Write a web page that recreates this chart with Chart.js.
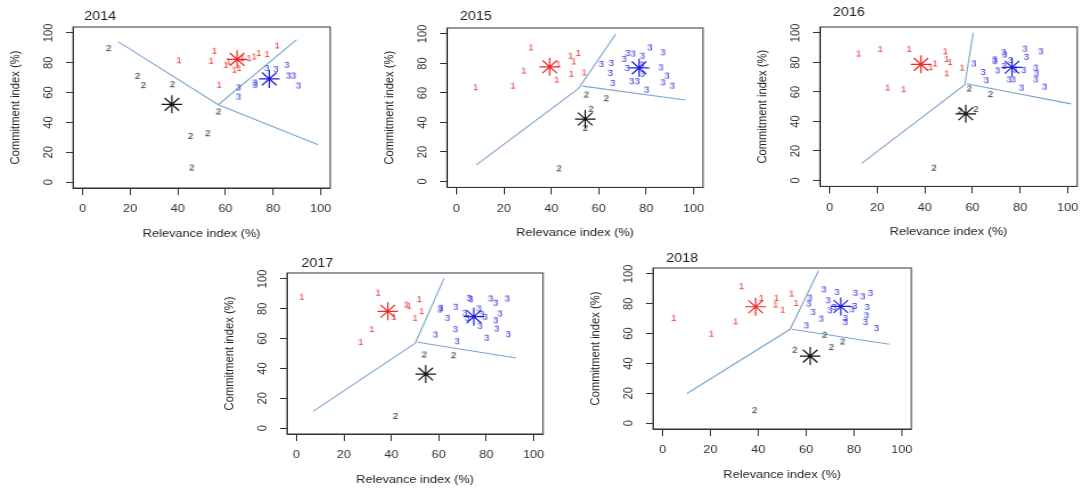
<!DOCTYPE html>
<html>
<head>
<meta charset="utf-8">
<script src="https://cdn.jsdelivr.net/npm/chart.js@4/dist/chart.umd.min.js"></script>
<style>
  html, body { margin: 0; padding: 0; background: #fff; width: 1086px; height: 489px; overflow: hidden; }
  .panel { position: absolute; transform-origin: 0 0; transform: scaleX(1.14); }
  canvas { display: block; }
</style>
</head>
<body>
<script>
const years = ['2014', '2015', '2016', '2017', '2018'];
const xTicks = [0, 20, 40, 60, 80, 100];
const yTicks = [0, 20, 40, 60, 80, 100];

// 2014
const group1_2014 = [[55.3,87.7],[53.9,81],[40.4,81.4],[60.1,78.3],[61.2,80.5],[63.6,75],[65.6,76.1],[67,82.8],[69.8,82.8],[71.9,83.9],[73.9,86.2],[77.4,85.5],[81.6,91.3],[57.3,64.9]];
const group2_2014 = [[10.9,89.5],[23,70.9],[25.5,64.7],[37.7,65.3],[57,47],[45.3,30.6],[52.5,32.4],[45.8,9.4]];
const group3_2014 = [[77.4,76.1],[81.1,75.4],[85.7,78.3],[86.4,71.1],[88.5,71.1],[90.6,64.4],[72.3,66.4],[72.3,64.9],[65.4,63.1],[65.4,57]];
const centres_2014 = [[64.9,82.3],[37.5,52.1],[78.4,69.2]];
const borderA_2014 = [[15.1,94],[57,51.9],[89.9,95.5]];
const borderB_2014 = [[57,51.9],[98.9,25]];

// 2015
const group1_2015 = [[7.9,63.5],[23.7,64.6],[28.3,74.8],[31.3,90.5],[42.2,68.7],[42.8,79.3],[48,84.9],[51.3,86.7],[49.4,81],[48.3,72.7],[53.8,73.6]];
const group2_2015 = [[54.7,58.6],[63.1,56.1],[56.7,48.9],[54.3,36],[43.2,8.6]];
const group3_2015 = [[61,79.3],[65.2,80],[64.8,73.2],[65.8,66.4],[70.6,82.7],[72.1,86.7],[74.4,86.3],[71.9,76.6],[73.8,67.6],[76.2,67.6],[78.3,84.9],[78,78.8],[78.3,72.7],[81.5,90.5],[87,87.2],[86.1,77],[88.7,71.4],[87,66.9],[90.9,64.6],[80.1,61.9]];
const centres_2015 = [[39.3,77.7],[54.3,42.3],[77,77]];
const borderA_2015 = [[8.4,11.3],[51.5,63.1],[67.1,99.8]];
const borderB_2015 = [[53.2,64.6],[96.5,55.2]];

// 2016
const group1_2016 = [[12.1,85.7],[21.2,88.8],[33.3,88.8],[24.3,62.6],[31,61.5],[48.5,87.2],[49.1,82.1],[50.5,79.9],[44.2,79],[42.4,76.5],[49.1,72.3],[55.6,76.1]];
const group2_2016 = [[58.6,62],[67.5,58.2],[61.4,48.1],[54.7,47],[43.8,8.3]];
const group3_2016 = [[60.5,79],[64.4,73.2],[65.8,67.6],[69.3,81.7],[69.3,80.5],[73.1,86.6],[73.5,85],[70.4,74.3],[73.2,77.2],[75.9,81.2],[75.3,68.2],[77,68.2],[77.7,74.9],[81.4,74.5],[81.9,89],[82.6,83.4],[86.5,76.1],[86.8,72.3],[86.5,68.2],[88.6,87.2],[80.5,62.6],[90.2,63.3]];
const centres_2016 = [[38.4,78.7],[57.2,45.2],[76.6,76.7]];
const borderA_2016 = [[13.5,11.6],[56.8,64.9],[60.3,100.2]];
const borderB_2016 = [[57.5,65.5],[101.4,51.9]];

// 2017
const group1_2017 = [[2.1,87.7],[34.3,90.4],[27,57.5],[31.7,66],[46.2,82.6],[47.3,81.7],[51.7,86.1],[52.7,78.1],[49.9,73.6],[41,74.3]];
const group2_2017 = [[53.8,49],[66.2,48.5],[41.7,7.8]];
const group3_2017 = [[60.8,80.3],[60.4,79.2],[67.1,81],[63.6,73.6],[58.5,62.4],[66.9,66],[67.6,57.9],[72.7,87],[73.4,86.1],[70.9,77],[72,73.6],[76.9,79.9],[78,76.1],[77.3,68.2],[79.4,74.3],[81.8,86.6],[83.9,83.7],[88.8,86.6],[85.7,76.5],[83.9,72],[84.3,66.4],[80.1,60.2],[89.2,62.6]];
const centres_2017 = [[38.5,78.3],[54.5,36.2],[74.8,74.7]];
const borderA_2017 = [[7,11.2],[50.1,57],[62.2,100.4]];
const borderB_2017 = [[51,57.5],[92.7,47]];

// 2018
const group1_2018 = [[4.6,70.1],[20.3,59.6],[30.4,67.9],[32.9,91.5],[41.2,83.6],[47.5,83.6],[47.1,79.1],[50.1,75.7],[53.8,86.5],[55.7,80.2]];
const group2_2018 = [[67.7,58.9],[75.2,54.4],[70.5,50.6],[55.2,48.8],[38.4,8.3]];
const group3_2018 = [[67.3,89.4],[72.8,87.6],[80.5,87],[83.6,84.7],[86.8,87],[61.4,83.8],[61,79.8],[69.1,82],[69.8,75.3],[71.5,77.5],[62.8,74.2],[66.2,69.7],[60,65.2],[76.3,70.1],[76.3,67.4],[80.2,78.2],[79.1,76],[85.4,77.5],[85.1,71.9],[84.7,67.4],[89.3,63.4]];
const centres_2018 = [[38.9,78],[61.7,44.9],[74.5,78.2]];
const borderA_2018 = [[10.2,19.8],[53.3,62.9],[65.2,102.2]];
const borderB_2018 = [[54,62.9],[94.8,52.8]];

const group1 = [group1_2014, group1_2015, group1_2016, group1_2017, group1_2018];
const group2 = [group2_2014, group2_2015, group2_2016, group2_2017, group2_2018];
const group3 = [group3_2014, group3_2015, group3_2016, group3_2017, group3_2018];
const centres = [centres_2014, centres_2015, centres_2016, centres_2017, centres_2018];
const bordersA = [borderA_2014, borderA_2015, borderA_2016, borderA_2017, borderA_2018];
const bordersB = [borderB_2014, borderB_2015, borderB_2016, borderB_2017, borderB_2018];

// page position of each plot box: left, top, width, height, year label dx, dy
const boxes = [
  [72.7, 27, 258.3, 161, 11.3, -10],
  [447.3, 28.3, 257.7, 159.4, 13, -11.3],
  [820, 27.3, 258, 159.4, 13, -14],
  [287.3, 273.3, 257.7, 161, 14.4, -9.3],
  [652.7, 268.3, 259, 161, 13.3, -9]
];

const S = 1.14;          // horizontal stretch of the original figure
const leftW = 72, rightW = 10, topH = 30, botH = 58;
const FONT = '"Liberation Sans", Arial, Helvetica, sans-serif';
const colours = ['rgb(236,40,40)', 'rgb(20,20,20)', 'rgb(30,30,220)'];
const lineCol = 'rgb(122,166,206)';
const axisCol = '#333';

function digitMark(txt, col) {
  const c = document.createElement('canvas');
  c.width = 10; c.height = 11;
  const g = c.getContext('2d');
  g.font = '8.5px ' + FONT;
  g.fillStyle = col;
  g.textAlign = 'center';
  g.textBaseline = 'middle';
  g.fillText(txt, 5, 6);
  return c;
}
const marks = [digitMark('1', colours[0]), digitMark('2', colours[1]), digitMark('3', colours[2])];

const toXY = arr => arr.map(p => ({x: p[0], y: p[1]}));

const frame = {
  id: 'frame',
  afterDraw(chart) {
    const {ctx, chartArea: a} = chart;
    const i = chart.options.plugins.frame.idx;
    ctx.save();
    ctx.strokeStyle = axisCol;
    ctx.lineWidth = 1;
    ctx.strokeRect(a.left, a.top, a.right - a.left, a.bottom - a.top);
    // y tick labels, rotated like base R
    const ys = chart.scales.y;
    ctx.fillStyle = '#333';
    ctx.font = '11.2px ' + FONT;
    ctx.textAlign = 'center';
    ctx.textBaseline = 'middle';
    const tx = a.left - 24 / S;
    yTicks.forEach(v => {
      ctx.save();
      ctx.translate(tx, ys.getPixelForValue(v));
      ctx.rotate(-Math.PI / 2);
      ctx.fillText(String(v), 0, 0);
      ctx.restore();
    });
    // year title
    ctx.fillStyle = '#222';
    ctx.font = '12.5px ' + FONT;
    ctx.textAlign = 'left';
    ctx.fillText(years[i], a.left + boxes[i][4] / S, a.top + boxes[i][5]);
    ctx.restore();
  }
};

function makePanel(i) {
  const [bl, bt, bw, bh] = boxes[i];
  const div = document.createElement('div');
  div.className = 'panel';
  div.style.left = (bl - leftW) + 'px';
  div.style.top = (bt - topH) + 'px';
  const cv = document.createElement('canvas');
  const W = Math.ceil((leftW + bw + rightW) / S);
  const H = Math.round(topH + bh + botH);
  cv.width = W; cv.height = H;
  cv.style.width = W + 'px'; cv.style.height = H + 'px';
  div.appendChild(cv);
  document.body.appendChild(div);

  const lh = 11.2 * 1.2;
  const datasets = [];
  centres[i].forEach((c, k) => {
    datasets.push({data: toXY([c]), pointStyle: 'star', pointRadius: 9, borderColor: colours[k], borderWidth: 1.2, backgroundColor: colours[k]});
  });
  [group1[i], group2[i], group3[i]].forEach((g, k) => {
    datasets.push({data: toXY(g), pointStyle: marks[k], pointRadius: 4});
  });
  [bordersA[i], bordersB[i]].forEach(b => {
    datasets.push({data: toXY(b), showLine: true, pointRadius: 0, borderColor: lineCol, borderWidth: 1.1, fill: false});
  });

  new Chart(cv, {
    type: 'scatter',
    data: {datasets},
    options: {
      responsive: false,
      animation: false,
      devicePixelRatio: 1,
      events: [],
      layout: {padding: {left: 0, top: topH, bottom: 0, right: W - (leftW + bw) / S}},
      plugins: {legend: {display: false}, tooltip: {enabled: false}, frame: {idx: i}},
      scales: {
        x: {
          type: 'linear', min: -4, max: 104,
          afterBuildTicks: s => { s.ticks = xTicks.map(v => ({value: v})); },
          afterFit: s => { s.height = H - topH - bh; },
          grid: {drawOnChartArea: false, drawTicks: true, tickLength: 7, color: axisCol},
          border: {display: true, color: axisCol},
          ticks: {padding: 7.5, color: '#333', maxRotation: 0, autoSkip: false, font: {family: FONT, size: 11.2}},
          title: {display: true, text: 'Relevance index (%)', color: '#222', font: {family: FONT, size: 11.2},
                  padding: {top: 0, bottom: (H - topH - bh) - 46 - lh / 2}}
        },
        y: {
          type: 'linear', min: -4, max: 104,
          afterBuildTicks: s => { s.ticks = yTicks.map(v => ({value: v})); },
          afterFit: s => { s.width = leftW / S; },
          grid: {drawOnChartArea: false, drawTicks: true, tickLength: 7 / S, color: axisCol},
          border: {display: true, color: axisCol},
          ticks: {display: false},
          title: {display: true, text: 'Commitment index (%)', color: '#222', font: {family: FONT, size: 11.2},
                  padding: {top: (leftW - 57) / S - lh / 2, bottom: 0}}
        }
      }
    },
    plugins: [frame]
  });
}

years.forEach((y, i) => makePanel(i));
</script>
</body>
</html>
